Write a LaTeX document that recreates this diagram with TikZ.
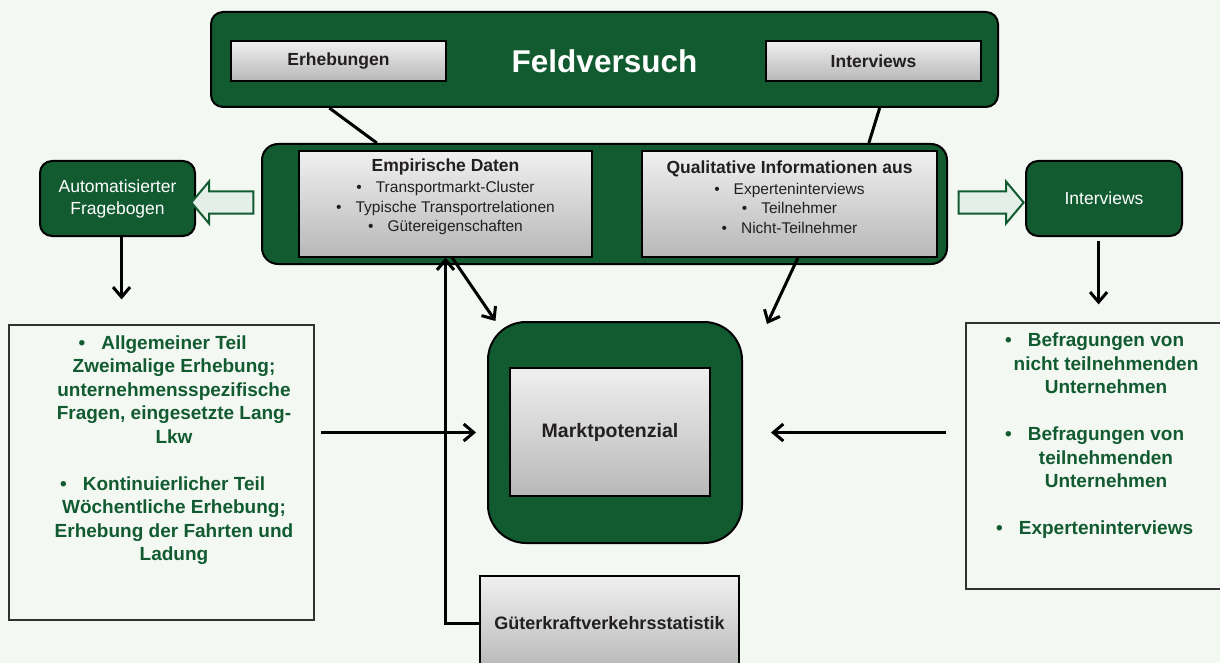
\documentclass[tikz,border=0pt]{standalone}
\usepackage{fontspec}
\setmainfont{Liberation Sans}
\usetikzlibrary{arrows.meta,shapes.arrows}
\definecolor{fvgreen}{RGB}{18,91,49}
\definecolor{pagebg}{RGB}{243,248,243}
\definecolor{paleg}{RGB}{228,239,232}
\definecolor{txtgray}{RGB}{35,31,32}
\definecolor{boxline}{RGB}{50,50,50}

\begin{document}
\begin{tikzpicture}[x=1pt,y=-1pt,>={Straight Barb[length=10pt,width=17pt]}]
    \tikzstyle{greenbox} = [draw=black,line width=2pt,fill=fvgreen,rounded corners=12pt,inner sep=0pt]
    \tikzstyle{graybox} = [draw=black,line width=1.2pt,top color=black!6,bottom color=black!28,inner sep=0pt,text=txtgray]
    \tikzstyle{txtbox} = [draw=boxline,line width=1.2pt,fill=pagebg,inner sep=0pt]
    \tikzstyle{graytxt} = [align=center,text=txtgray,font=\fontsize{15.5}{19.5}\selectfont]
    \tikzstyle{greentxt} = [align=center,text=fvgreen,font=\fontsize{19}{23.5}\selectfont\bfseries]
    \tikzstyle{whitetxt} = [align=center,text=white,font=\fontsize{17.5}{22}\selectfont]
    \tikzstyle{hollow} = [single arrow,draw=fvgreen,line width=2pt,fill=paleg,single arrow head extend=10pt,single arrow tip angle=100,inner xsep=0pt,inner ysep=10pt]
    \tikzstyle{conn} = [line width=3pt]
    \useasboundingbox [fill=pagebg] (0,0) rectangle (1220,663);
    \clip (0,0) rectangle (1220,663);
    \node [greenbox,minimum width=787pt,minimum height=95pt] (fv) at (604.5,59.5) {};
    \node [text=white,font=\fontsize{31.5}{36}\selectfont\bfseries] (fvt) at (604.5,61) {Feldversuch};
    \node [graybox,minimum width=215pt,minimum height=40pt,font=\fontsize{17.5}{21}\selectfont\bfseries] (erh) at (338.5,61) {Erhebungen};
    \node [graybox,minimum width=215pt,minimum height=40pt,font=\fontsize{17.5}{21}\selectfont\bfseries] (itv) at (873.5,61) {Interviews};
    \node [greenbox,rounded corners=16pt,minimum width=685pt,minimum height=120pt] (mid) at (604.5,204) {};
    \node [graybox,minimum width=293pt,minimum height=106pt] (emp) at (445.5,204) {};
    \node [graybox,minimum width=295pt,minimum height=106pt] (qual) at (789.5,204) {};
    \node [graytxt] (empt) at (445.5,197) {{\fontsize{17.5}{19.5}\selectfont\bfseries Empirische Daten}\\[1.5pt]
        \textbullet\hspace{14pt}Transportmarkt-Cluster\\
        \textbullet\hspace{14pt}Typische Transportrelationen\\
        \textbullet\hspace{14pt}Gütereigenschaften};
    \node [graytxt] (qualt) at (789.5,197) {{\fontsize{17.5}{19.5}\selectfont\bfseries Qualitative Informationen aus}\\[1.5pt]
        \textbullet\hspace{14pt}Experteninterviews\\
        \textbullet\hspace{14pt}Teilnehmer\\
        \textbullet\hspace{14pt}Nicht-Teilnehmer};
    \node [greenbox,minimum width=155pt,minimum height=75pt,whitetxt] (auto) at (117.5,198.5) {Automatisierter\\Fragebogen};
    \node [greenbox,minimum width=156pt,minimum height=75pt,whitetxt] (intr) at (1104,198.5) {Interviews};
    \node [hollow,shape border rotate=180,minimum height=62pt] (la) at (227,202.5) {};
    \node [hollow,minimum height=65pt] (ra) at (986.5,202.5) {};
    \node [txtbox,minimum width=305pt,minimum height=295pt] (lbox) at (161.5,472.5) {};
    \node [greentxt] (lboxt) at (174,450) {\llap{\textbullet\hspace{16pt}}Allgemeiner Teil\\
        Zweimalige Erhebung;\\
        unternehmensspezifische\\
        Fragen, eingesetzte Lang-\\
        Lkw\\[23.5pt]
        \llap{\textbullet\hspace{16pt}}Kontinuierlicher Teil\\
        Wöchentliche Erhebung;\\
        Erhebung der Fahrten und\\
        Ladung};
    \node [txtbox,minimum width=300pt,minimum height=266pt] (rbox) at (1116,456) {};
    \node [greentxt] (rboxt) at (1106,436) {\llap{\textbullet\hspace{16pt}}Befragungen von\\
        nicht teilnehmenden\\
        Unternehmen\\[23.5pt]
        \llap{\textbullet\hspace{16pt}}Befragungen von\\
        teilnehmenden\\
        Unternehmen\\[23.5pt]
        \llap{\textbullet\hspace{16pt}}Experteninterviews};
    \node [greenbox,rounded corners=38pt,minimum width=254pt,minimum height=221pt] (mp) at (615,432.5) {};
    \node [graybox,minimum width=200pt,minimum height=128pt,font=\fontsize{19.5}{23}\selectfont\bfseries] (mpin) at (610,432) {Marktpotenzial};
    \node [graybox,minimum width=259pt,minimum height=94pt,font=\fontsize{18}{22}\selectfont\bfseries] (gks) at (609.5,623) {Güterkraftverkehrsstatistik};
    \coordinate (mq) at (767,324);
    \draw [conn] (fv.190.1) -- (mid.165.9);
    \draw [conn] (fv.350.25) -- (mid.13.1);
    \draw [conn,->,shorten >=25pt] (auto.-84) -- (auto.-84 |- lbox.north);
    \draw [conn,->,shorten <=4pt,shorten >=18pt] (intr.-98) -- (intr.-98 |- rbox.north);
    \draw [conn,->] (emp.-83) -- (mp.137.6);
    \draw [conn,->] (qual.-81) -- (mq);
    \draw [conn,->,shorten <=6pt,shorten >=11pt] (lbox.east |- mp.west) -- (mp.west);
    \draw [conn,->,shorten <=19pt,shorten >=28pt] (rbox.west |- mp.east) -- (mp.east);
    \draw [conn,->] (gks.west) -| (emp.south);
\end{tikzpicture}
\end{document}
